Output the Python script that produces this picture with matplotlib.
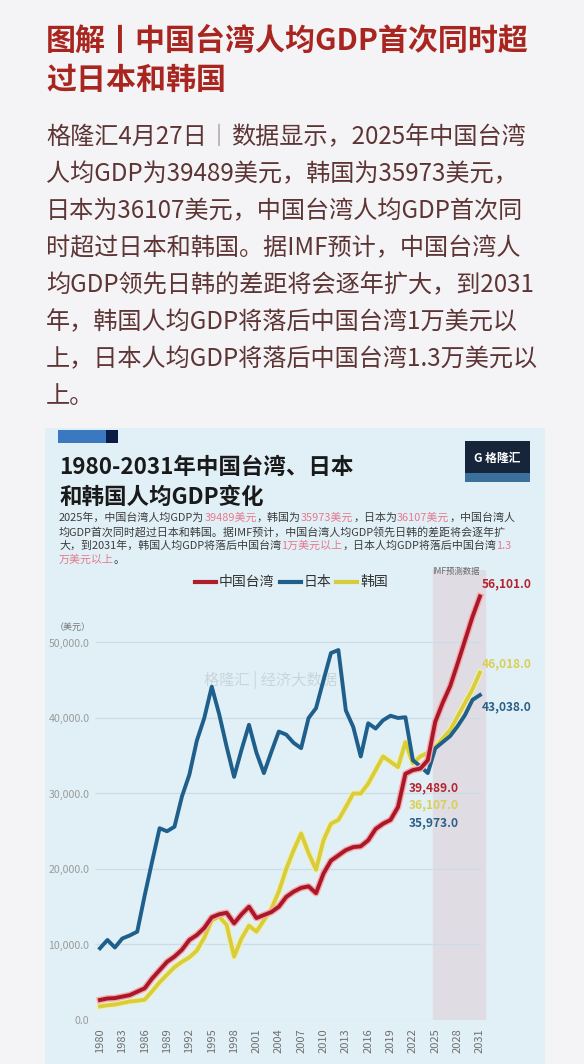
import matplotlib
matplotlib.use("Agg")
import matplotlib.pyplot as plt
import matplotlib.patheffects as pe
from matplotlib.patches import Rectangle
from matplotlib.lines import Line2D

plt.rcParams["font.family"] = ["Noto Sans CJK SC", "DejaVu Sans"]

years = list(range(1980, 2032))
taiwan = [2650, 2850, 2900, 3100, 3300, 3750, 4200, 5500, 6600, 7700,
          8400, 9300, 10600, 11250, 12200, 13600, 14000, 14200, 12800, 14000,
          15000, 13500, 13900, 14300, 15000, 16300, 17000, 17500, 17700, 16800,
          19400, 21100, 21800, 22500, 22900, 23000, 23800, 25300, 26000, 26500,
          28200, 32600, 33100, 33300, 34400, 39489, 42000, 44200, 47200, 50300,
          53400, 56101]
japan = [9500, 10600, 9600, 10800, 11200, 11700, 16500, 21000, 25400, 25000,
         25600, 29600, 32500, 37000, 40000, 44150, 40500, 36200, 32200, 35800,
         39100, 35400, 32700, 35500, 38200, 37800, 36700, 36000, 40000, 41300,
         45000, 48600, 49000, 41000, 38800, 34900, 39300, 38600, 39700, 40300,
         40000, 40100, 34400, 33600, 32700, 35973, 36800, 37600, 38900, 40400,
         42400, 43038]
korea = [1800, 1950, 2050, 2250, 2450, 2550, 2700, 3800, 5000, 6000,
         7000, 7700, 8300, 9200, 10900, 13200, 13700, 12600, 8400, 10800,
         12500, 11700, 13200, 14700, 17000, 20000, 22500, 24700, 22100, 19900,
         23800, 26000, 26500, 28200, 30000, 30000, 31300, 33100, 34900, 34200,
         33500, 36800, 34000, 34900, 35400, 36107, 37300, 38400, 40200, 42000,
         43800, 46018]
yticks = [0, 10000, 20000, 30000, 40000, 50000]
xticks = list(range(1980, 2032, 3))

W, H = 584, 1064
fig = plt.figure(figsize=(W / 100, H / 100), dpi=100)
fig.patch.set_facecolor("#f4f4f6")
r = fig.canvas.get_renderer()


def fx(x):
    return x / W


def fy(y):
    return 1 - y / H


def segments(x, y, segs, size, weight="normal"):
    for s, c in segs:
        t = fig.text(fx(x), fy(y), s, color=c, fontsize=size, fontweight=weight,
                     ha="left", va="center")
        x += t.get_window_extent(r).width


# article header
red = "#a8261f"
for i, line in enumerate(["图解丨中国台湾人均GDP首次同时超", "过日本和韩国"]):
    fig.text(fx(46), fy(41 + 39 * i), line, color=red, fontsize=21.6,
             fontweight="bold", ha="left", va="center")

body = "#5e3535"
body_lines = [
    [("格隆汇4月27日", body), ("丨", "#c0b8b8"), ("数据显示，2025年中国台湾", body)],
    [("人均GDP为39489美元，韩国为35973美元，", body)],
    [("日本为36107美元，中国台湾人均GDP首次同", body)],
    [("时超过日本和韩国。据IMF预计，中国台湾人", body)],
    [("均GDP领先日韩的差距将会逐年扩大，到2031", body)],
    [("年，韩国人均GDP将落后中国台湾1万美元以", body)],
    [("上，日本人均GDP将落后中国台湾1.3万美元以", body)],
    [("上。", body)],
]
for i, segs in enumerate(body_lines):
    segments(46, 137 + 37 * i, segs, 17.4)

# chart card
fig.add_artist(Rectangle((fx(45), 0), fx(500), fy(428), transform=fig.transFigure,
                         facecolor="#e1f0f7", edgecolor="none", zorder=0))
fig.add_artist(Rectangle((fx(58), fy(443)), fx(48), 13 / H, transform=fig.transFigure,
                         facecolor="#3a78c0", edgecolor="none"))
fig.add_artist(Rectangle((fx(106), fy(443)), fx(12), 13 / H, transform=fig.transFigure,
                         facecolor="#0c1d45", edgecolor="none"))

# logo
fig.add_artist(Rectangle((fx(465), fy(482)), fx(65), 41 / H, transform=fig.transFigure,
                         facecolor="#17253a", edgecolor="none"))
fig.add_artist(Rectangle((fx(465), fy(482)), fx(65), 9 / H, transform=fig.transFigure,
                         facecolor="#3b6f9c", edgecolor="none"))
fig.text(fx(497), fy(458), "G 格隆汇", color="white", fontsize=8.5, fontweight="bold",
         ha="center", va="center")

for i, line in enumerate(["1980-2031年中国台湾、日本", "和韩国人均GDP变化"]):
    fig.text(fx(59), fy(467 + 30 * i), line, color="#1a1a1a", fontsize=16.2,
             fontweight="bold", ha="left", va="center")

dark = "#3c3c3c"
pink = "#e57a8c"
sub_lines = [
    [("2025年，中国台湾人均GDP为", dark), ("39489美元", pink), ("，韩国为", dark),
     ("35973美元", pink), ("，日本为", dark), ("36107美元", pink), ("，中国台湾人", dark)],
    [("均GDP首次同时超过日本和韩国。据IMF预计，中国台湾人均GDP领先日韩的差距将会逐年扩", dark)],
    [("大，到2031年，韩国人均GDP将落后中国台湾", dark), ("1万美元以上", pink),
     ("，日本人均GDP将落后中国台湾", dark), ("1.3", pink)],
    [("万美元以上", pink), ("。", dark)],
]
for i, segs in enumerate(sub_lines):
    segments(59, 518 + 14 * i, segs, 7.9)

# legend
legend_items = [("中国台湾", "#b01e2a", 195), ("日本", "#1f5f8b", 280), ("韩国", "#d6cc3c", 336)]
for name, c, x0 in legend_items:
    fig.add_artist(Line2D([fx(x0), fx(x0 + 21)], [fy(582), fy(582)], color=c, lw=3,
                          transform=fig.transFigure))
    fig.text(fx(x0 + 24), fy(582), name, color="#333333", fontsize=10, ha="left", va="center")
fig.text(fx(432), fy(571), "IMF预测数据", color="#666666", fontsize=6, ha="left", va="center")

# plot area
ax = fig.add_axes([fx(95), fy(1020), fx(487 - 95), (1020 - 570) / H])
ax.set_facecolor("none")
ax.set_xlim(1979.33, 2031.95)
ax.set_ylim(0, 59600)
for s in ax.spines.values():
    s.set_visible(False)
ax.axvspan(2024.7, 2031.7, color="#dfdce4", zorder=0)
ax.hlines(yticks, 1979.33, 2031, color="#cadde7", lw=0.9, zorder=1)

ax.text(1994, 45000, "格隆汇 | 经济大数据", color="#9aa3a8", alpha=0.35, fontsize=11,
        ha="left", va="center", zorder=1)

ax.plot(years, korea, color="#d8cd3a", lw=2.8, zorder=3, solid_joinstyle="round",
        path_effects=[pe.Stroke(linewidth=4.5, foreground="#f3efb0"), pe.Normal()])
ax.plot(years, japan, color="#1f5f8b", lw=2.8, zorder=4, solid_joinstyle="round")
ax.plot(years, taiwan, color="#a8172a", lw=2.8, zorder=5, solid_joinstyle="round",
        path_effects=[pe.Stroke(linewidth=4.8, foreground="#f6a9a9"), pe.Normal()])

ax.set_xticks(xticks)
ax.set_xticklabels([str(y) for y in xticks], rotation=90, va="top")
ax.tick_params(axis="x", length=0, pad=6, labelsize=8, labelcolor="#6f6f6f")
ax.set_yticks(yticks)
ax.set_yticklabels([f"{v:,.1f}" for v in yticks])
ax.tick_params(axis="y", length=0, pad=4, labelsize=7.6, labelcolor="#9a9a9a")
fig.text(fx(55), fy(627), "（美元）", color="#777777", fontsize=6.5, ha="left", va="center")

# value labels
end_labels = [("56,101.0", "#b5232e", 57800, 2031.3), ("46,018.0", "#d9cf55", 47200, 2031.3),
              ("43,038.0", "#2b5f86", 41500, 2031.3), ("39,489.0", "#b5232e", 30700, 2021.4),
              ("36,107.0", "#d9cf55", 28450, 2021.4), ("35,973.0", "#2b5f86", 26100, 2021.4)]
for txt, c, v, xpos in end_labels:
    ax.text(xpos, v, txt, color=c, fontsize=8.6, fontweight="bold",
            ha="left", va="center", zorder=6)

fig.savefig("out.png", dpi=100, facecolor=fig.get_facecolor())
